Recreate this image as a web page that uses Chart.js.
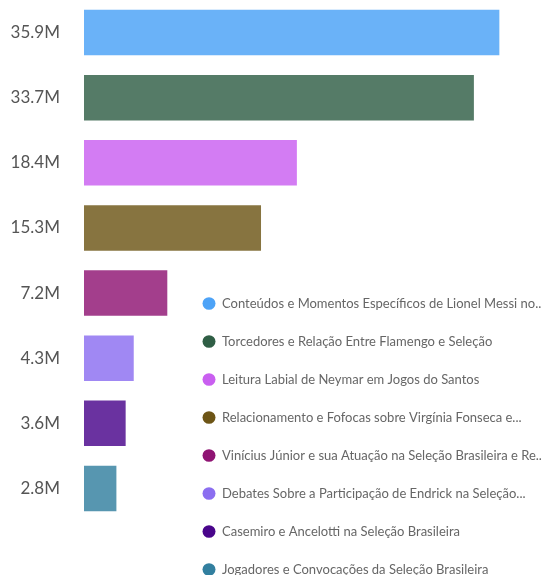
<!DOCTYPE html>
<html>
<head>
<meta charset="utf-8">
<script src="https://cdn.jsdelivr.net/npm/chart.js@4/dist/chart.umd.min.js"></script>
<style>
html,body{margin:0;padding:0;background:#fff;}
#wrap{width:541px;height:575px;position:relative;}
</style>
</head>
<body>
<div id="wrap"><canvas id="c"></canvas></div>
<script>
const tickLabels = ["35.9M","33.7M","18.4M","15.3M","7.2M","4.3M","3.6M","2.8M"];
const topics = [
  "Conteúdos e Momentos Específicos de Lionel Messi no...",
  "Torcedores e Relação Entre Flamengo e Seleção",
  "Leitura Labial de Neymar em Jogos do Santos",
  "Relacionamento e Fofocas sobre Virgínia Fonseca e...",
  "Vinícius Júnior e sua Atuação na Seleção Brasileira e Re...",
  "Debates Sobre a Participação de Endrick na Seleção...",
  "Casemiro e Ancelotti na Seleção Brasileira",
  "Jogadores e Convocações da Seleção Brasileira"
];
const values = [35.9, 33.7, 18.4, 15.3, 7.2, 4.3, 3.6, 2.8];
const solidColors = ["#4da3f7","#2f5e45","#c95ff0","#6d5516","#8f1473","#8b6ef0","#49058b","#327f9f"];
const barColors = ["rgba(77,163,247,0.84)","rgba(47,94,69,0.82)","rgba(201,95,240,0.82)","rgba(109,85,22,0.82)","rgba(143,20,115,0.82)","rgba(139,110,240,0.82)","rgba(73,5,139,0.82)","rgba(50,127,159,0.82)"];

const datasets = topics.map((t, i) => ({
  label: t,
  data: values.map((v, j) => j === i ? v : null),
  backgroundColor: barColors[i],
  borderWidth: 0,
  barPercentage: 0.7,
  categoryPercentage: 1.0,
  grouped: false
}));

const moveLegend = {
  id: 'moveLegend',
  afterLayout(chart) {
    const lg = chart.legend;
    if (!lg) return;
    const w = lg.width, h = lg.height;
    lg.left = 202.5 - 25;
    lg.top = 272;
    lg.right = lg.left + w;
    lg.bottom = lg.top + h;
  }
};

new Chart(document.getElementById('c'), {
  type: 'bar',
  data: { labels: tickLabels, datasets },
  options: {
    indexAxis: 'y',
    responsive: true,
    maintainAspectRatio: false,
    animation: false,
    layout: { padding: { left: 0, right: 0, top: 0, bottom: 54 } },
    scales: {
      x: { display: false, min: 0, max: 39.5 },
      y: {
        grid: { display: false, drawTicks: false },
        border: { display: false },
        ticks: { padding: 24, color: '#555', font: { family: 'Lato', size: 17 } },
        afterFit(scale) { scale.width = 84; scale.paddingTop = 0; scale.paddingBottom = 0; }
      }
    },
    plugins: {
      tooltip: { enabled: false },
      legend: {
        position: 'chartArea',
        fullSize: false,
        align: 'start',
        labels: {
          usePointStyle: true,
          pointStyle: 'circle',
          boxHeight: 9,
          boxWidth: 9,
          pointStyleWidth: 13,
          padding: 25,
          color: '#666',
          font: { family: 'Lato', size: 13 },
          generateLabels(chart) {
            return chart.data.datasets.map((ds, i) => ({
              text: ds.label,
              fillStyle: solidColors[i],
              strokeStyle: solidColors[i],
              lineWidth: 0,
              pointStyle: 'circle',
              hidden: false,
              datasetIndex: i,
              fontColor: '#666'
            }));
          }
        }
      }
    }
  },
  plugins: [moveLegend]
});
</script>
</body>
</html>
